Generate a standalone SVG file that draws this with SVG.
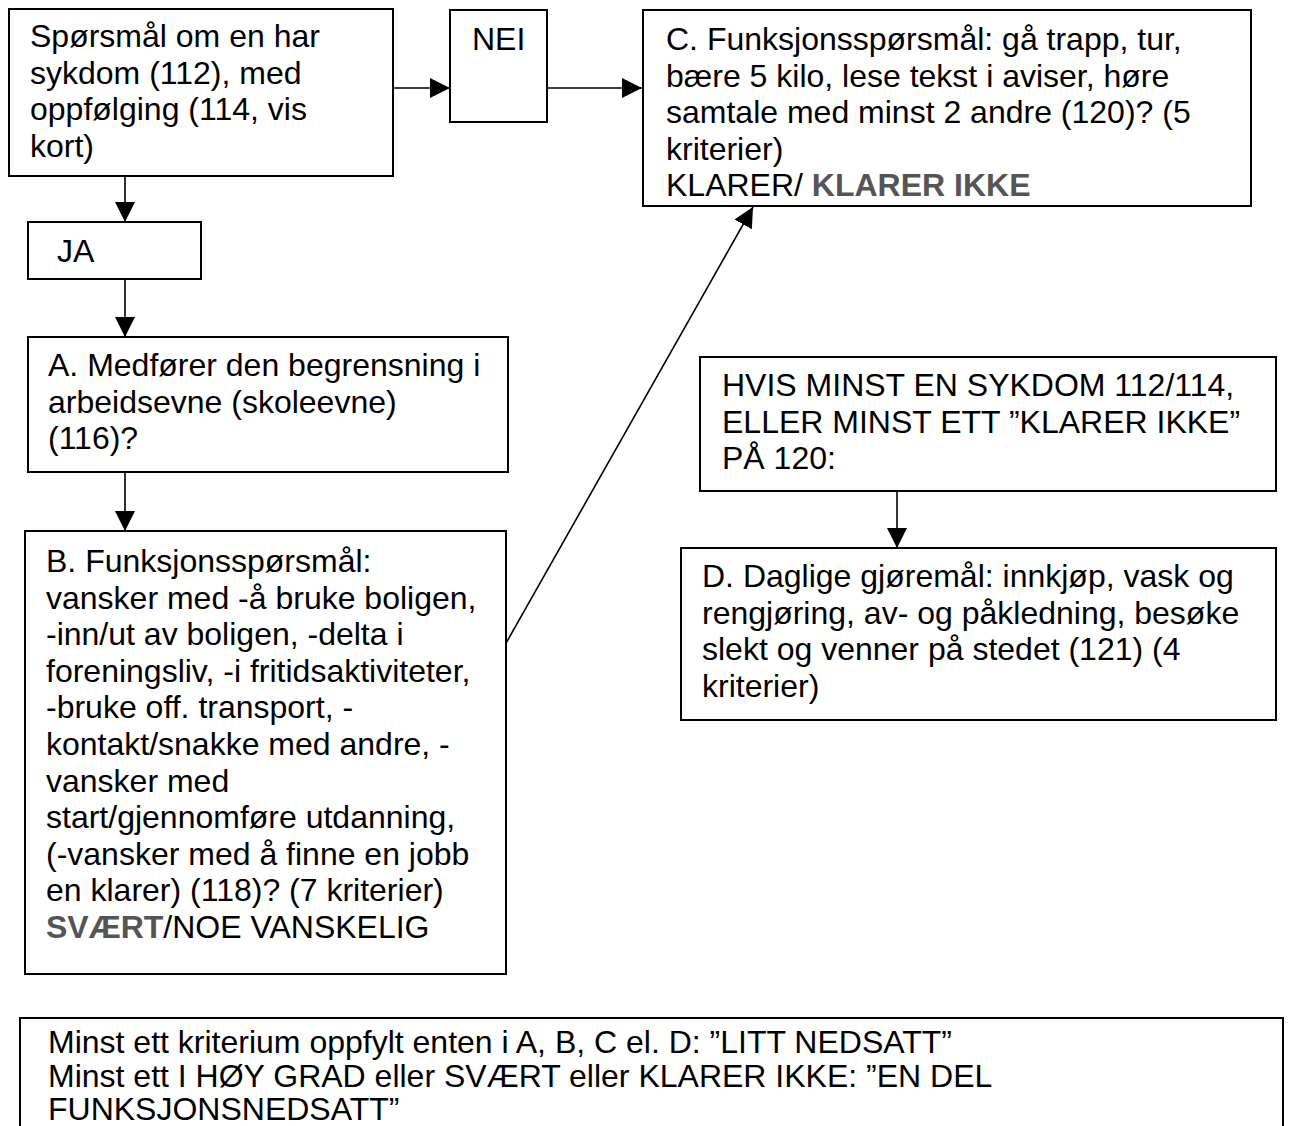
<svg xmlns="http://www.w3.org/2000/svg" width="1304" height="1126" viewBox="0 0 1304 1126">
<defs>
<marker id="ah" markerUnits="userSpaceOnUse" markerWidth="22" markerHeight="22" refX="20" refY="10" orient="auto">
<path d="M0,0 L20,10 L0,20 z" fill="#000"/>
</marker>
<style>
.box{fill:#fff;stroke:#000;stroke-width:2}
.t{font-family:"Liberation Sans",Arial,Helvetica,sans-serif;font-size:32px;fill:#000}
.g{font-weight:bold;fill:#555}
.c{fill:none;stroke:#000;stroke-width:1.6;marker-end:url(#ah)}
</style>
</defs>
<rect width="1304" height="1126" fill="#fff"/>
<g id="connectors">
<line class="c" x1="393" y1="88" x2="450" y2="88"/>
<line class="c" x1="547" y1="88" x2="642" y2="88"/>
<line class="c" x1="125" y1="177" x2="125" y2="222"/>
<line class="c" x1="125" y1="279" x2="125" y2="337"/>
<line class="c" x1="125" y1="472" x2="125" y2="531"/>
<line class="c" x1="505" y1="645" x2="753" y2="207"/>
<line class="c" x1="897" y1="491" x2="897" y2="548"/>
</g>
<g id="q1">
<rect class="box" x="9" y="9" width="384" height="167"/>
<text class="t" x="30"><tspan x="30" y="47">Spørsmål om en har</tspan><tspan x="30" y="83.6">sykdom (112), med</tspan><tspan x="30" y="120.2">oppfølging (114, vis</tspan><tspan x="30" y="156.8">kort)</tspan></text>
</g>
<g id="nei">
<rect class="box" x="450" y="10" width="97" height="112"/>
<text class="t" x="472" y="50">NEI</text>
</g>
<g id="ja">
<rect class="box" x="28" y="222" width="173" height="57"/>
<text class="t" x="57" y="262">JA</text>
</g>
<g id="a">
<rect class="box" x="28" y="337" width="480" height="135"/>
<text class="t"><tspan x="48" y="376">A. Medfører den begrensning i</tspan><tspan x="48" y="412.6">arbeidsevne (skoleevne)</tspan><tspan x="48" y="449.2">(116)?</tspan></text>
</g>
<g id="b">
<rect class="box" x="25" y="531" width="481" height="443"/>
<text class="t"><tspan x="46" y="572">B. Funksjonsspørsmål:</tspan><tspan x="46" y="608.6">vansker med -å bruke boligen,</tspan><tspan x="46" y="645.2">-inn/ut av boligen, -delta i</tspan><tspan x="46" y="681.8">foreningsliv, -i fritidsaktiviteter,</tspan><tspan x="46" y="718.4">-bruke off. transport, -</tspan><tspan x="46" y="755">kontakt/snakke med andre, -</tspan><tspan x="46" y="791.6">vansker med</tspan><tspan x="46" y="828.2">start/gjennomføre utdanning,</tspan><tspan x="46" y="864.8">(-vansker med å finne en jobb</tspan><tspan x="46" y="901.4">en klarer) (118)? (7 kriterier)</tspan><tspan x="46" y="938"><tspan class="g">SVÆRT</tspan>/NOE VANSKELIG</tspan></text>
</g>
<g id="c">
<rect class="box" x="643" y="10" width="608" height="196"/>
<text class="t"><tspan x="666" y="50">C. Funksjonsspørsmål: gå trapp, tur,</tspan><tspan x="666" y="86.6">bære 5 kilo, lese tekst i aviser, høre</tspan><tspan x="666" y="123.2">samtale med minst 2 andre (120)? (5</tspan><tspan x="666" y="159.8">kriterier)</tspan><tspan x="666" y="196.4">KLARER/ <tspan class="g">KLARER IKKE</tspan></tspan></text>
</g>
<g id="hvis">
<rect class="box" x="700" y="357" width="576" height="134"/>
<text class="t"><tspan x="722" y="396">HVIS MINST EN SYKDOM 112/114,</tspan><tspan x="722" y="432.6">ELLER MINST ETT ”KLARER IKKE”</tspan><tspan x="722" y="469.2">PÅ 120:</tspan></text>
</g>
<g id="d">
<rect class="box" x="681" y="548" width="595" height="172"/>
<text class="t"><tspan x="702" y="587">D. Daglige gjøremål: innkjøp, vask og</tspan><tspan x="702" y="623.6">rengjøring, av- og påkledning, besøke</tspan><tspan x="702" y="660.2">slekt og venner på stedet (121) (4</tspan><tspan x="702" y="696.8">kriterier)</tspan></text>
</g>
<g id="summary">
<rect class="box" x="20" y="1018" width="1263" height="140"/>
<text class="t"><tspan x="48" y="1053">Minst ett kriterium oppfylt enten i A, B, C el. D: ”LITT NEDSATT”</tspan><tspan x="48" y="1087">Minst ett I HØY GRAD eller SVÆRT eller KLARER IKKE:  ”EN DEL</tspan><tspan x="48" y="1120">FUNKSJONSNEDSATT”</tspan></text>
</g>
</svg>
